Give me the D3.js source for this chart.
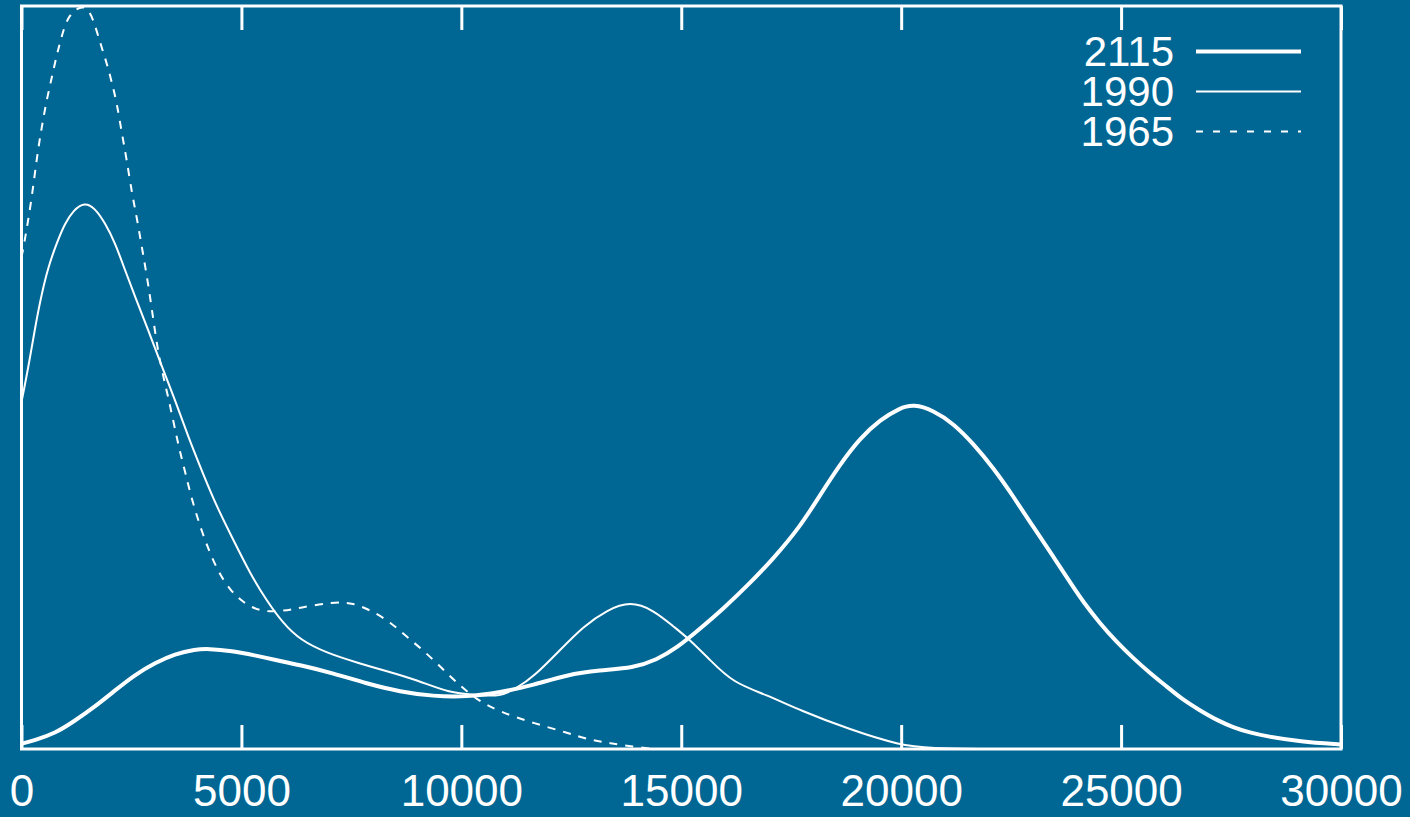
<!DOCTYPE html>
<html>
<head>
<meta charset="utf-8">
<script src="https://cdn.jsdelivr.net/npm/d3@7"></script>
<style>
body{margin:0;background:#006795;}
svg text{font-family:"Liberation Sans",Arial,sans-serif;fill:#fff;}
</style>
</head>
<body>
<svg id="chart" width="1410" height="817"></svg>
<script>
// series
var years = ["2115","1990","1965"];

var x2115 = [0,310,760,1190,1670,2130,2580,3040,3490,3950,4250,4780,5310,5760,6330,7090,7850,8610,9360,10120,10880,11640,12400,13150,13910,14440,14900,15430,15960,16560,17090,17700,18160,18610,19060,19520,19970,20280,20730,21190,21640,22100,22550,23000,23460,23910,24140,24520,24900,25280,25660,26040,26410,26790,27170,27550,27930,28310,29070,30000];
var y2115 = [0.7,1.2,2.1,3.7,5.7,7.9,10.0,11.6,12.8,13.4,13.5,13.2,12.6,12.0,11.3,10.2,8.8,7.7,7.1,7.0,7.6,8.6,10.0,10.6,10.9,12.0,13.6,16.2,18.9,22.3,25.6,29.9,34.2,38.3,41.8,44.3,45.9,46.4,45.6,43.8,41.1,37.8,34.0,29.9,25.9,21.8,19.8,16.9,14.4,12.2,10.2,8.4,6.6,5.2,3.9,2.9,2.2,1.7,1.0,0.6];

var x1990 = [0,160,310,460,610,800,990,1180,1430,1670,1900,2130,2350,2580,2880,3190,3490,3790,4130,4440,4820,5200,5580,5950,6330,6940,7700,8230,8990,9740,10350,10880,11260,11640,12240,12770,13310,13840,14370,14820,15200,15650,16180,16940,17700,18840,19970,20660,22000];
var y1990 = [46.7,51.5,56.8,61.3,64.9,68.1,70.8,72.5,73.6,72.8,70.8,68.1,64.5,60.9,56.4,51.5,47.0,42.0,37.0,32.6,28.1,23.6,19.9,16.9,14.7,12.9,11.5,10.6,9.3,7.5,7.3,7.0,8.2,9.7,13.3,16.5,18.7,19.9,18.7,16.5,14.7,12.0,8.9,7.3,5.2,2.6,0.5,0.1,0];

var x1965 = [0,50,230,350,460,570,690,800,910,1060,1440,1630,1790,1940,2050,2170,2280,2390,2510,2620,2770,2920,3110,3340,3570,3730,3830,4100,4440,4740,5040,5420,5880,6330,7080,7540,7990,8380,8760,9130,9520,9900,10350,10880,11630,12400,12930,13380,13900,14400];
var y1965 = [66.2,67.6,73.9,79.7,83.7,87.3,90.4,93.4,95.8,98.9,100.4,98.3,95.0,92.3,89.8,86.9,82.9,79.4,74.8,71.6,66.4,61.2,52.8,47.4,40.7,37.1,34.5,29.1,24.1,21.4,19.7,18.5,18.5,19.0,19.8,19.7,18.5,17.1,15.1,13.3,11.1,8.9,6.6,5.0,3.5,2.2,1.2,0.8,0.3,0];

var xTicks = [0,5000,10000,15000,20000,25000,30000];

var Chart = (function(){
  var svg = d3.select("#chart");
  var left = 21.5, right = 1341, top = 6, bottom = 749;

  var x = d3.scaleLinear().domain([0,30000]).range([left,right]);
  var y = d3.scaleLinear().domain([0,100]).range([bottom,top]);

  function zip(xs,ys){
    return xs.map(function(v,i){ return [v,ys[i]]; });
  }

  var series = [
    {name:years[0], data:zip(x2115,y2115), width:4, dash:null},
    {name:years[1], data:zip(x1990,y1990), width:2, dash:null},
    {name:years[2], data:zip(x1965,y1965), width:2, dash:"8,8"}
  ];

  function drawAxes(){
    svg.append("rect")
      .attr("width",1410).attr("height",817)
      .attr("fill","#006795");

    var bottomAxis = d3.axisBottom(x).tickValues(xTicks)
      .tickFormat(d3.format("d"))
      .tickSizeInner(-24).tickSizeOuter(0).tickPadding(26);
    var gb = svg.append("g").attr("transform","translate(0,"+bottom+")").call(bottomAxis);
    gb.select(".domain").remove();
    gb.selectAll(".tick line").attr("stroke","#fff").attr("stroke-width",3);
    gb.selectAll(".tick text")
      .attr("fill","#fff")
      .style("font-size","44px")
      .style("font-family","'Liberation Sans',Arial,sans-serif");

    var topAxis = d3.axisTop(x).tickValues(xTicks)
      .tickSizeInner(-24).tickSizeOuter(0).tickFormat("");
    var gt = svg.append("g").attr("transform","translate(0,"+top+")").call(topAxis);
    gt.select(".domain").remove();
    gt.selectAll(".tick line").attr("stroke","#fff").attr("stroke-width",3);

    svg.append("rect")
      .attr("x",left).attr("y",top)
      .attr("width",right-left).attr("height",bottom-top)
      .attr("fill","none").attr("stroke","#fff").attr("stroke-width",3);
  }

  function drawLines(){
    var line = d3.line()
      .x(function(d){ return x(d[0]); })
      .y(function(d){ return y(d[1]); })
      .curve(d3.curveBasis);

    series.forEach(function(s){
      svg.append("path")
        .datum(s.data)
        .attr("d",line)
        .attr("fill","none")
        .attr("stroke","#fff")
        .attr("stroke-width",s.width)
        .attr("stroke-linejoin","round")
        .attr("stroke-dasharray",s.dash);
    });
  }

  function drawLegend(){
    series.forEach(function(s,i){
      var ly = 51.5 + i*40;
      svg.append("text")
        .attr("x",1174)
        .attr("y",ly+14.5)
        .attr("text-anchor","end")
        .style("font-size","42px")
        .text(s.name);
      svg.append("line")
        .attr("x1",1196).attr("x2",1301)
        .attr("y1",ly).attr("y2",ly)
        .attr("stroke","#fff")
        .attr("stroke-width",s.width)
        .attr("stroke-dasharray",s.dash ? "7,10" : null);
    });
  }

  return {
    init : function(){
      drawAxes();
      drawLines();
      drawLegend();
    }
  };
})();

Chart.init();
</script>
</body>
</html>
